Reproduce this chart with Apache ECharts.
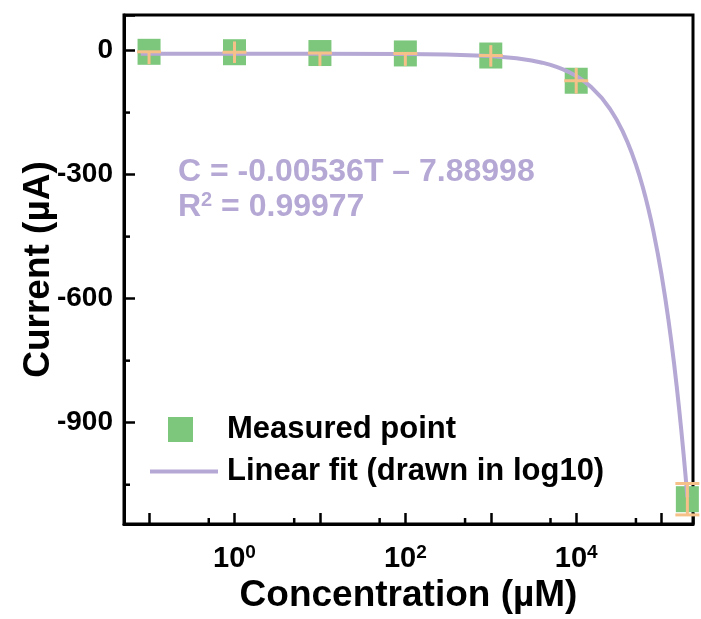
<!DOCTYPE html>
<html><head><meta charset="utf-8">
<script src="https://cdn.jsdelivr.net/npm/echarts@6/dist/echarts.min.js"></script>
<style>html,body{margin:0;padding:0;background:#fff}#c{width:701px;height:619px}</style>
</head><body><div id="c"></div>
<script>
// ---- data ----
const concentrations = [0.1, 1, 10, 100, 1000, 10000, 200000];
const currents = [-3, -4, -6, -7, -12, -73, -1085];
const errLow = [30, 26, 31, 30, 27, 31, 38];
const errHigh = [0, 26, 0, 0, 25, 31, 38];
const fitT = [0.08, 0.1, 1, 10, 100, 300, 1000, 2000, 3000, 4000, 5000, 6000, 7000, 8000, 10000, 12000, 15000, 20000, 25000, 30000, 35000, 40000, 45000, 50000, 55000, 60000, 65000, 70000, 75000, 80000, 90000, 100000, 110000, 120000, 130000, 140000, 150000, 160000, 170000, 180000, 190000, 200000];
const fitC = [-7.89, -7.89, -7.90, -7.94, -8.43, -9.50, -13.25, -18.61, -23.97, -29.33, -34.69, -40.05, -45.41, -50.77, -61.49, -72.21, -88.29, -115.09, -141.89, -168.69, -195.49, -222.29, -249.09, -275.89, -302.69, -329.49, -356.29, -383.09, -409.89, -436.69, -490.29, -543.89, -597.49, -651.09, -704.69, -758.29, -811.89, -865.49, -919.09, -972.69, -1026.29, -1079.89];
const xMinorTicks = [0.5, 5, 50, 500, 5000, 50000];
const yMinorTicks = [-150, -450, -750, -1050];
const xLabelPowers = [0, 2, 4];
const yTickLabels = [0, -300, -600, -900];
const eqLine1 = 'C = -0.00536T \u2013 7.88998';
const eqLine2R = 'R';
const eqLine2Rest = ' = 0.99977';

const X_MIN = 0.0509, X_MAX = 232800, Y_MIN = -1145, Y_MAX = 86;
const GREEN = '#7cc77c', ORANGE = '#f6c089', PURPLE = '#b5a8d5', FONT = 'Liberation Sans, Arial, sans-serif';

const chart = echarts.init(document.getElementById('c'));
chart.setOption({
  backgroundColor: '#fff',
  animation: false,
  grid: { left: 124, right: 8, top: 15, bottom: 94, show: true, borderColor: '#000', borderWidth: 3 },
  xAxis: {
    type: 'log', logBase: 10, min: X_MIN, max: X_MAX,
    name: 'Concentration (\u00b5M)', nameLocation: 'middle', nameGap: 53, nameMoveOverlap: false,
    nameTextStyle: { fontFamily: FONT, fontWeight: 'bold', fontSize: 37, color: '#000' },
    axisLine: { onZero: false, lineStyle: { color: '#000', width: 3 } },
    axisTick: { inside: true, length: 11, lineStyle: { color: '#000', width: 2.5 } },
    splitLine: { show: false }, minorTick: { show: false },
    axisLabel: {
      margin: 14, padding: [5, 0, 0, 0],
      formatter: function (v) {
        const p = Math.round(Math.log10(v));
        if (Math.abs(Math.log10(v) - p) > 1e-6 || xLabelPowers.indexOf(p) < 0) return '';
        return '{b|10}{s|' + p + '}';
      },
      rich: {
        b: { fontFamily: FONT, fontWeight: 'bold', fontSize: 29, color: '#000', lineHeight: 32 },
        s: { fontFamily: FONT, fontWeight: 'bold', fontSize: 19, color: '#000', verticalAlign: 'top', lineHeight: 32, padding: [0, 0, 13, 0] }
      }
    }
  },
  yAxis: {
    type: 'value', min: Y_MIN, max: Y_MAX, splitNumber: 4,
    name: 'Current (\u00b5A)', nameLocation: 'middle', nameGap: 67, nameRotate: 90, nameMoveOverlap: false,
    nameTextStyle: { fontFamily: FONT, fontWeight: 'bold', fontSize: 37, color: '#000' },
    axisLine: { onZero: false, lineStyle: { color: '#000', width: 3 } },
    axisTick: { inside: true, length: 11, lineStyle: { color: '#000', width: 2.5 } },
    splitLine: { show: false },
    axisLabel: {
      margin: 11, fontFamily: FONT, fontWeight: 'bold', fontSize: 28, color: '#000',
      formatter: function (v) { return yTickLabels.indexOf(Math.round(v)) >= 0 && Math.abs(v - Math.round(v)) < 1e-6 ? String(Math.round(v)) : ''; }
    }
  },
  legend: [
    { data: ['Measured point'], left: 168, top: 414, padding: 0, orient: 'vertical', icon: 'rect', itemWidth: 25, itemHeight: 25,
      textStyle: { fontFamily: FONT, fontWeight: 'bold', fontSize: 31, color: '#000', padding: [0, 0, 0, 29] } },
    { data: ['Linear fit (drawn in log10)'], left: 150, top: 456, padding: 0, orient: 'vertical', icon: 'rect', itemWidth: 68, itemHeight: 4,
      itemStyle: { color: PURPLE },
      textStyle: { fontFamily: FONT, fontWeight: 'bold', fontSize: 31, color: '#000', padding: [0, 0, 0, 4] } }
  ],
  graphic: [
    { type: 'text', left: 178, top: 156, style: { text: eqLine1, fill: PURPLE, font: 'bold 32px ' + FONT } },
    { type: 'text', left: 178, top: 190, style: {
        text: '{a|' + eqLine2R + '}{s|2}{a|' + eqLine2Rest + '}',
        rich: { a: { fill: PURPLE, font: 'bold 32px ' + FONT, lineHeight: 34 },
                s: { fill: PURPLE, font: 'bold 20px ' + FONT, verticalAlign: 'top', lineHeight: 34, padding: [0, 0, 13, 0] } } } }
  ],
  series: [
    {
      name: 'Measured point', type: 'scatter', symbol: 'rect', symbolSize: [23, 26], z: 2,
      itemStyle: { color: GREEN, opacity: 1 },
      data: concentrations.map((c, i) => [c, currents[i]])
    },
    {
      name: 'Linear fit (drawn in log10)', type: 'line', symbol: 'none', smooth: false, z: 3,
      lineStyle: { color: PURPLE, width: 4 }, itemStyle: { color: PURPLE },
      data: fitT.map((t, i) => [t, fitC[i]])
    },
    {
      name: 'err', type: 'custom', z: 4, silent: true,
      data: concentrations.map((c, i) => [c, currents[i], errLow[i], errHigh[i]]),
      renderItem: function (params, api) {
        const x = api.value(0), y = api.value(1), lo = api.value(2), hi = api.value(3);
        const p = api.coord([x, y]);
        const pl = api.coord([x, y - lo]);
        const ph = api.coord([x, y + hi]);
        const st = { stroke: ORANGE, lineWidth: 3 };
        const ch = [{ type: 'line', shape: { x1: p[0], y1: pl[1], x2: p[0], y2: ph[1] }, style: st }];
        const big = Math.abs(pl[1] - p[1]) > 13;
        if (big) {
          ch.push({ type: 'line', shape: { x1: p[0] - 12, y1: pl[1], x2: p[0] + 12, y2: pl[1] }, style: st });
          ch.push({ type: 'line', shape: { x1: p[0] - 12, y1: ph[1], x2: p[0] + 12, y2: ph[1] }, style: st });
        } else {
          ch.push({ type: 'line', shape: { x1: p[0] - 12, y1: p[1], x2: p[0] + 12, y2: p[1] }, style: st });
        }
        return { type: 'group', children: ch };
      }
    },
    {
      name: 'xminor', type: 'custom', z: 5, silent: true,
      data: xMinorTicks.map(v => [v, Y_MIN]),
      renderItem: function (params, api) {
        const p = api.coord([api.value(0), api.value(1)]);
        return { type: 'line', shape: { x1: p[0], y1: p[1], x2: p[0], y2: p[1] - 6 }, style: { stroke: '#000', lineWidth: 2.5 } };
      }
    },
    {
      name: 'yminor', type: 'custom', z: 5, silent: true,
      data: yMinorTicks.map(v => [X_MIN, v]),
      renderItem: function (params, api) {
        const p = api.coord([api.value(0), api.value(1)]);
        return { type: 'line', shape: { x1: p[0], y1: p[1], x2: p[0] + 6, y2: p[1] }, style: { stroke: '#000', lineWidth: 2.5 } };
      }
    }
  ]
});
</script></body></html>
